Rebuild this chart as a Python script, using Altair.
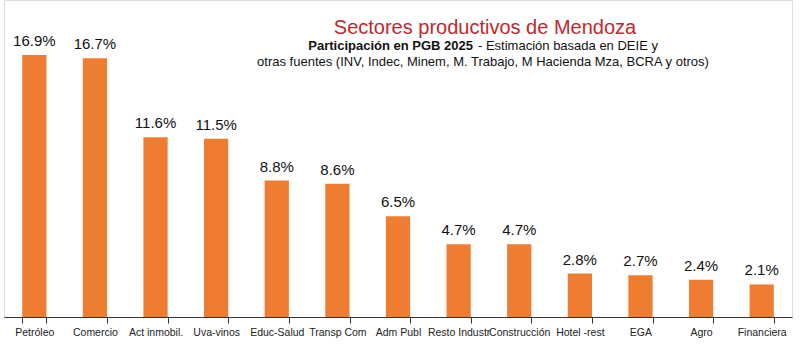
import altair as alt
import pandas as pd

sectores = ["Petróleo", "Comercio", "Act inmobil.", "Uva-vinos", "Educ-Salud", "Transp Com",
            "Adm Publ", "Resto Industr", "Construcción", "Hotel -rest", "EGA", "Agro", "Financiera"]
participacion = [16.9, 16.7, 11.6, 11.5, 8.8, 8.6, 6.5, 4.7, 4.7, 2.8, 2.7, 2.4, 2.1]
etiquetas = ["16.9%", "16.7%", "11.6%", "11.5%", "8.8%", "8.6%", "6.5%", "4.7%", "4.7%",
             "2.8%", "2.7%", "2.4%", "2.1%"]

titulo = "Sectores productivos de Mendoza"
sub_bold = "Participación  en PGB 2025"
sub_1 = "- Estimación basada  en DEIE y"
sub_2 = "otras fuentes (INV, Indec, Minem, M. Trabajo, M Hacienda  Mza, BCRA y otros)"

df = pd.DataFrame({"sector": sectores, "valor": participacion, "etiqueta": etiquetas})

FONT = "Liberation Sans"
W, H = 788, 317

x = alt.X("sector:N", sort=sectores,
          scale=alt.Scale(paddingInner=0.6, paddingOuter=0.3),
          axis=alt.Axis(title=None, labelAngle=0, labelFont=FONT, labelFontSize=10.5,
                        labelColor="#222", labelOverlap=False, labelLimit=200,
                        labelPadding=4, tickBand="extent", tickSize=6, tickColor="#333",
                        domainColor="#333", grid=False, labelBaseline="top"))
y = alt.Y("valor:Q", scale=alt.Scale(domain=[0, 20.45], nice=False, zero=True), axis=None)

base = alt.Chart(df).encode(x=x, y=y)
bars = base.mark_bar(color="#EE7D31")
labels = base.mark_text(baseline="bottom", dy=-6, font=FONT, fontSize=15, color="#111").encode(
    text="etiqueta:N")

def txt(t, xpos, ypos, size, color="#111", weight="normal", align="center"):
    return alt.Chart(pd.DataFrame({"t": [t]})).mark_text(
        font=FONT, fontSize=size, color=color, fontWeight=weight, align=align,
        baseline="alphabetic").encode(text="t:N", x=alt.value(xpos), y=alt.value(ypos))

chart = alt.layer(
    bars, labels,
    txt(titulo, 481, 34, 20, color="#C0282D"),
    txt(sub_bold, 469, 50, 13, weight="bold", align="right"),
    txt(sub_1, 474, 50, 13, align="left"),
    txt(sub_2, 479, 66, 13),
).properties(width=W, height=H, autosize=alt.AutoSizeParams(type="none"),
             padding={"left": 4, "top": 0, "right": 11, "bottom": 37}
).configure_view(stroke=None).configure(background="white")

chart.save("out.html", embed_options={"renderer": "svg", "actions": False})
